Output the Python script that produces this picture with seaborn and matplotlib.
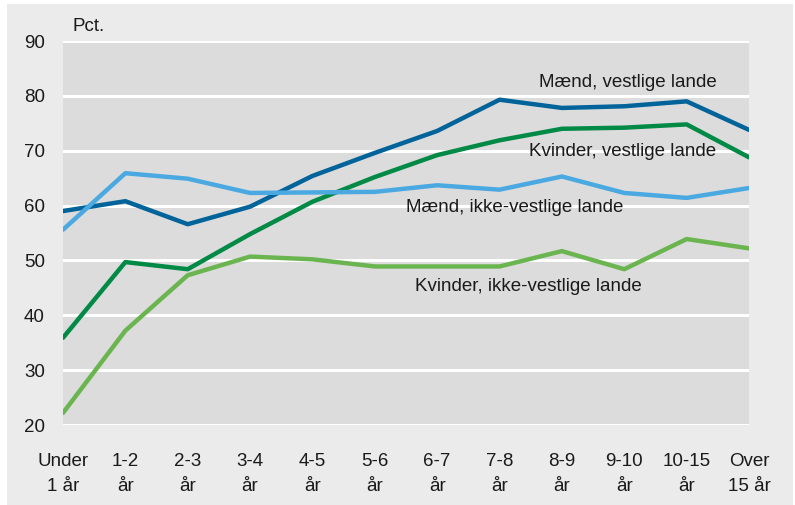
import pandas as pd
import seaborn as sns
import matplotlib.pyplot as plt
from matplotlib.patches import Rectangle

# categories (x axis) and values
categories = ['Under\n1 år', '1-2\når', '2-3\når', '3-4\når', '4-5\når', '5-6\når',
              '6-7\når', '7-8\når', '8-9\når', '9-10\når', '10-15\når', 'Over\n15 år']

maend_vest = [59.0, 60.8, 56.6, 59.8, 65.4, 69.6, 73.6, 79.3, 77.8, 78.1, 79.0, 73.8]
kvinder_vest = [35.9, 49.7, 48.4, 54.8, 60.7, 65.2, 69.2, 71.9, 74.0, 74.2, 74.8, 68.8]
maend_ikke = [55.6, 65.9, 64.9, 62.3, 62.4, 62.5, 63.7, 62.9, 65.3, 62.3, 61.4, 63.2]
kvinder_ikke = [22.2, 37.2, 47.3, 50.7, 50.2, 48.9, 48.9, 48.9, 51.7, 48.4, 53.9, 52.2]

series_names = ['Mænd, vestlige lande', 'Kvinder, vestlige lande',
                'Mænd, ikke-vestlige lande', 'Kvinder, ikke-vestlige lande']
colors = ['#00639a', '#008a45', '#4ba9e1', '#6bb550']

rows = []
for name, vals in zip(series_names, [maend_vest, kvinder_vest, maend_ikke, kvinder_ikke]):
    for i, v in enumerate(vals):
        rows.append({'pos': i, 'value': v, 'serie': name})
df = pd.DataFrame(rows)

sns.set_style('white')
plt.rcParams['font.family'] = ['Liberation Sans', 'DejaVu Sans']
fs = 13.5

fig = plt.figure(figsize=(7.95, 5.05), dpi=100, facecolor='white')
# gray card behind the chart, with thin white margin at left/top
card = Rectangle((7 / 795, 0), (793 - 7) / 795, (505 - 4) / 505,
                 transform=fig.transFigure, facecolor='#ebebeb',
                 edgecolor='none', zorder=-10)
fig.add_artist(card)

ax = fig.add_axes([63 / 795, 1 - 425 / 505, (749 - 63) / 795, (425 - 41) / 505])
ax.set_facecolor('#dcdcdc')

sns.lineplot(data=df, x='pos', y='value', hue='serie', palette=colors,
             linewidth=3.2, legend=False, ax=ax, zorder=3)

ax.set_xlim(0, len(categories) - 1)
ax.set_ylim(20, 90)
ax.set_yticks(range(20, 91, 10))
ax.set_xticks(range(len(categories)))
ax.set_xticklabels(categories, linespacing=1.65)
ax.tick_params(axis='both', length=0, labelsize=fs, colors='#1a1a1a')
ax.tick_params(axis='x', pad=20)
ax.tick_params(axis='y', pad=13)
ax.grid(axis='y', color='white', linewidth=2.2, zorder=1)
ax.set_axisbelow(True)
for s in ax.spines.values():
    s.set_visible(False)
ax.set_xlabel('')
ax.set_ylabel('')

ax.text(0.15, 91.9, 'Pct.', fontsize=fs, color='#1a1a1a', clip_on=False)

label_pos = [(9.06, 82.4), (8.98, 69.8), (7.25, 59.6), (7.46, 45.2)]
for name, (x, y) in zip(series_names, label_pos):
    ax.text(x, y, name, fontsize=fs, ha='center', va='center', color='#1a1a1a', zorder=4)

fig.savefig('out.png', dpi=100, facecolor=fig.get_facecolor())
